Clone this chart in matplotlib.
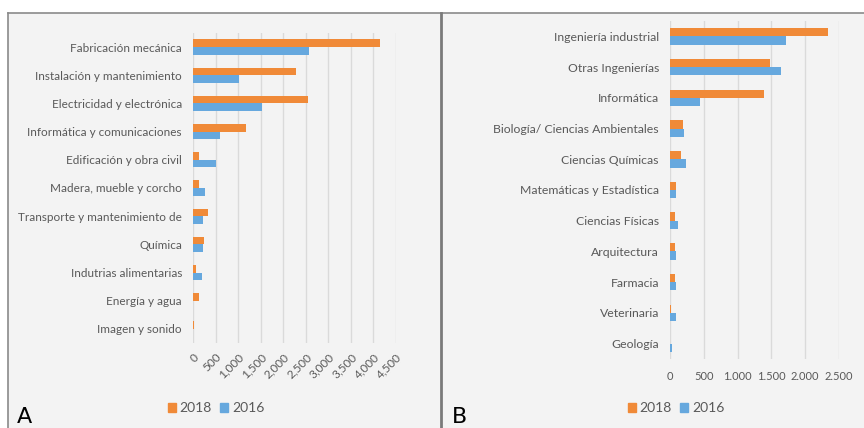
import matplotlib.pyplot as plt
import matplotlib.patches as mpatches
from matplotlib.lines import Line2D
import numpy as np

# Panel A data
cats_a = ['Fabricación mecánica', 'Instalación y mantenimiento', 'Electricidad y electrónica',
          'Informática y comunicaciones', 'Edificación y obra civil', 'Madera, mueble y corcho',
          'Transporte y mantenimiento de', 'Química', 'Indutrias alimentarias',
          'Energía y agua', 'Imagen y sonido']
a_2018 = [4150, 2290, 2560, 1170, 140, 125, 325, 250, 75, 130, 20]
a_2016 = [2580, 1015, 1540, 600, 515, 275, 230, 230, 200, 0, 0]
ticks_a = [0, 500, 1000, 1500, 2000, 2500, 3000, 3500, 4000, 4500]

# Panel B data
cats_b = ['Ingeniería industrial', 'Otras Ingenierías', 'Informática',
          'Biología/ Ciencias Ambientales', 'Ciencias Químicas', 'Matemáticas y Estadística',
          'Ciencias Físicas', 'Arquitectura', 'Farmacia', 'Veterinaria', 'Geología']
b_2018 = [2330, 1485, 1385, 185, 165, 90, 70, 70, 70, 8, 0]
b_2016 = [1710, 1635, 440, 205, 240, 85, 115, 85, 85, 85, 30]
ticks_b = [0, 500, 1000, 1500, 2000, 2500]

ORANGE = '#F08A38'
BLUE = '#66A8DE'
TXT = '#595959'
BG = '#F3F3F3'
W, H = 864, 428

plt.rcParams['font.family'] = ['Lato', 'DejaVu Sans']

fig = plt.figure(figsize=(W / 100, H / 100), dpi=100)
fig.patch.set_facecolor('white')


def px(x0, y0, x1, y1):
    # pixel box (top-left origin) -> figure fraction rect
    return [x0 / W, 1 - y1 / H, (x1 - x0) / W, (y1 - y0) / H]


# gray panel background + borders
fig.patches.append(mpatches.Rectangle((8 / W, 0), 1, 1 - 13 / H, transform=fig.transFigure,
                                      facecolor=BG, edgecolor='none', zorder=-10))
fig.lines.append(Line2D([8 / W, 1], [1 - 13 / H] * 2, transform=fig.transFigure, color='#8a8a8a', lw=1.2))
fig.lines.append(Line2D([8 / W] * 2, [0, 1 - 13 / H], transform=fig.transFigure, color='#8a8a8a', lw=1.2))
fig.lines.append(Line2D([441 / W] * 2, [0, 1 - 13 / H], transform=fig.transFigure, color='#7a7a7a', lw=2))


def draw(ax, cats, v18, v16, ticks, xmax, fmt, rot, fs):
    y = np.arange(len(cats))
    h = 0.27
    ax.barh(y - h / 2, v18, height=h, color=ORANGE, zorder=3)
    ax.barh(y + h / 2, v16, height=h, color=BLUE, zorder=3)
    ax.set_ylim(len(cats) - 0.5, -0.5)
    ax.set_xlim(0, xmax)
    ax.set_facecolor(BG)
    for s in ax.spines.values():
        s.set_visible(False)
    ax.set_yticks(y)
    ax.set_yticklabels(cats, color=TXT, fontsize=fs)
    ax.set_xticks(ticks)
    labels = [fmt(t) for t in ticks]
    if rot:
        ax.set_xticklabels(labels, rotation=45, ha='right', va='top', rotation_mode='anchor',
                           color=TXT, fontsize=8.5)
    else:
        ax.set_xticklabels(labels, color=TXT, fontsize=8)
    ax.tick_params(length=0, pad=8)
    ax.grid(axis='x', color='#DADADA', lw=1, zorder=0)


ax_a = fig.add_axes(px(193, 33, 396, 343))
draw(ax_a, cats_a, a_2018, a_2016, ticks_a, 4500, lambda t: f'{t:,}', True, 8.5)
ax_a.tick_params(axis='x', pad=6)

ax_b = fig.add_axes(px(670, 21, 839, 359))
draw(ax_b, cats_b, b_2018, b_2016, ticks_b, 2500, lambda t: f'{t:,}'.replace(',', '.'), False, 8.8)
ax_b.tick_params(axis='x', pad=9)

handles = [mpatches.Patch(color=ORANGE, label='2018'), mpatches.Patch(color=BLUE, label='2016')]
for cx in (216, 676):
    fig.legend(handles=handles, loc='center', bbox_to_anchor=(cx / W, 1 - 408 / H), ncol=2,
               frameon=False, fontsize=10, handlelength=0.6, handleheight=0.6,
               handletextpad=0.25, columnspacing=0.6, labelcolor=TXT)

fig.text(17 / W, 1 - 423 / H, 'A', fontsize=16, family='DejaVu Sans', color='black', va='baseline')
fig.text(452 / W, 1 - 423 / H, 'B', fontsize=16, family='DejaVu Sans', color='black', va='baseline')

fig.savefig('out.png', dpi=100, facecolor='white')
